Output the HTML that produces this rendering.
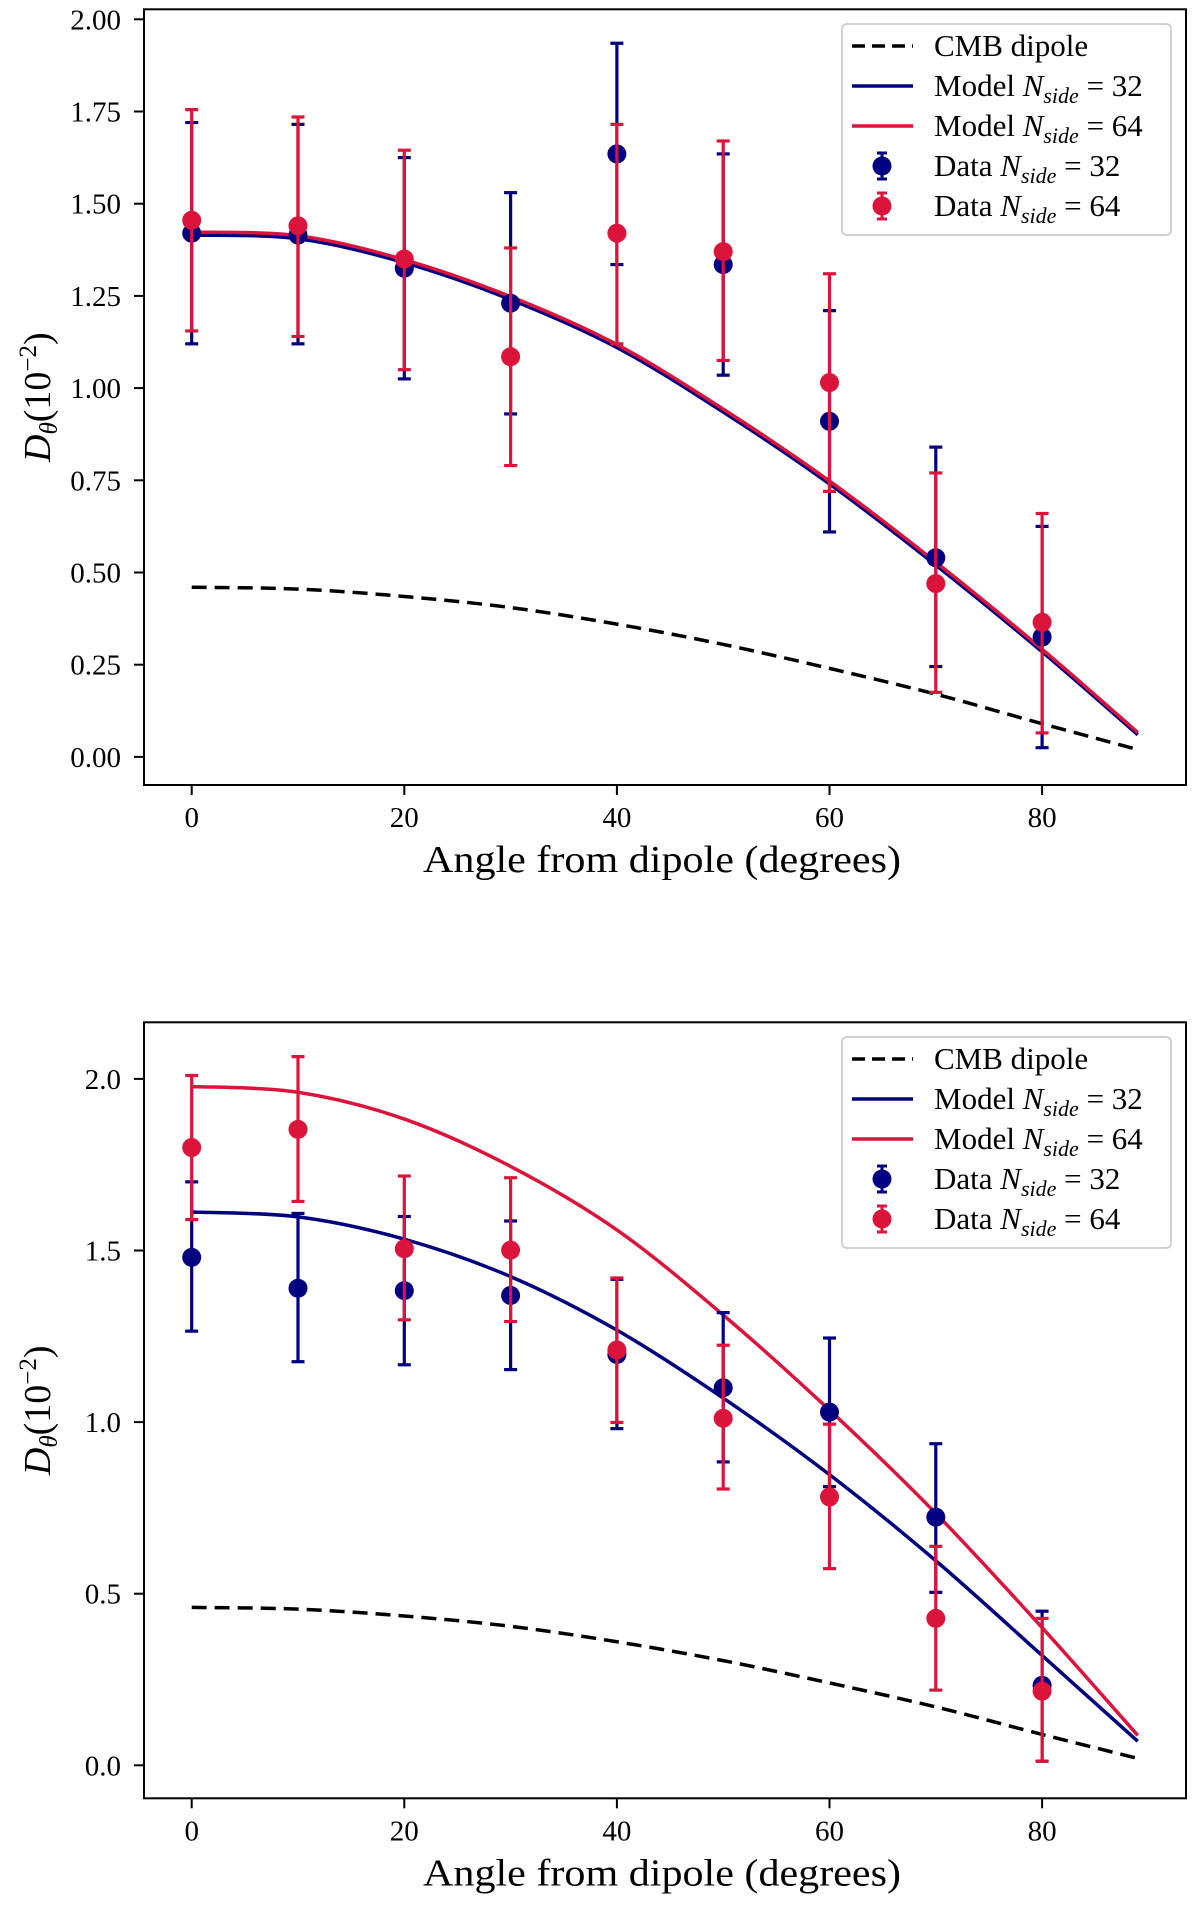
<!DOCTYPE html>
<html>
<head>
<meta charset="utf-8">
<style>
html,body{margin:0;padding:0;background:#fff;}
svg{display:block;}
text{font-family:"Liberation Serif","DejaVu Serif",serif;fill:#000;}
</style>
</head>
<body>
<svg id="fig" width="1200" height="1912" viewBox="0 0 1200 1912" xmlns="http://www.w3.org/2000/svg"></svg>
<script>
// ---- shared data ----
const dataAngles = [0,10,20,30,40,50,60,70,80];
const modelAngles = [0,10,20,30,40,50,60,70,80,89];
const dipoleValues = [0.46,0.455,0.435,0.405,0.36,0.305,0.24,0.17,0.09,0.02];
const xTickValues = [0,20,40,60,80];

// ---- panel A (top) ----
const aBlueVals = [1.42,1.415,1.325,1.23,1.635,1.335,0.91,0.54,0.325];
const aBlueLo   = [1.12,1.12,1.025,0.93,1.335,1.035,0.61,0.245,0.025];
const aBlueHi   = [1.72,1.715,1.625,1.53,1.935,1.635,1.21,0.84,0.625];
const aRedVals  = [1.455,1.44,1.35,1.085,1.42,1.37,1.015,0.47,0.365];
const aRedLo    = [1.155,1.14,1.05,0.79,1.12,1.075,0.72,0.175,0.065];
const aRedHi    = [1.755,1.735,1.645,1.38,1.715,1.67,1.31,0.77,0.66];
const aBlueModel = [1.415,1.405,1.34,1.24,1.11,0.935,0.74,0.52,0.285,0.06];
const aRedModel  = [1.423,1.413,1.348,1.248,1.118,0.943,0.748,0.528,0.292,0.066];
const aYTicks = [0,0.25,0.5,0.75,1.0,1.25,1.5,1.75,2.0];
const aYTickLabels = ["0.00","0.25","0.50","0.75","1.00","1.25","1.50","1.75","2.00"];

// ---- panel B (bottom) ----
const bBlueVals = [1.48,1.39,1.383,1.369,1.197,1.10,1.029,0.723,0.233];
const bBlueLo   = [1.265,1.176,1.167,1.153,0.981,0.884,0.812,0.504,0.012];
const bBlueHi   = [1.70,1.608,1.599,1.586,1.416,1.319,1.245,0.937,0.449];
const bRedVals  = [1.80,1.853,1.505,1.501,1.21,1.011,0.782,0.428,0.216];
const bRedLo    = [1.59,1.643,1.298,1.293,0.999,0.805,0.573,0.219,0.012];
const bRedHi    = [2.01,2.065,1.717,1.712,1.42,1.224,0.994,0.638,0.428];
const bBlueModel = [1.612,1.598,1.533,1.424,1.268,1.07,0.847,0.596,0.32,0.07];
const bRedModel  = [1.978,1.961,1.883,1.745,1.56,1.312,1.035,0.734,0.401,0.087];
const bYTicks = [0,0.5,1.0,1.5,2.0];
const bYTickLabels = ["0.0","0.5","1.0","1.5","2.0"];

const NS = "http://www.w3.org/2000/svg";
const BLUE = "#000080", RED = "#DC143C";
const fig = document.getElementById('fig');

function mk(tag, attrs, parent){
  const e = document.createElementNS(NS, tag);
  for (const k in attrs) e.setAttribute(k, attrs[k]);
  (parent||fig).appendChild(e);
  return e;
}
function smoothPath(pts){
  let d = "M"+pts[0][0].toFixed(2)+","+pts[0][1].toFixed(2);
  for (let i=0;i<pts.length-1;i++){
    const p0=pts[Math.max(i-1,0)], p1=pts[i], p2=pts[i+1], p3=pts[Math.min(i+2,pts.length-1)];
    const c1=[p1[0]+(p2[0]-p0[0])/6, p1[1]+(p2[1]-p0[1])/6];
    const c2=[p2[0]-(p3[0]-p1[0])/6, p2[1]-(p3[1]-p1[1])/6];
    d += " C"+c1[0].toFixed(2)+","+c1[1].toFixed(2)+" "+c2[0].toFixed(2)+","+c2[1].toFixed(2)+" "+p2[0].toFixed(2)+","+p2[1].toFixed(2);
  }
  return d;
}

function panel(cfg){
  const g = mk('g', {});
  
  
  const L=144, R=1186, T=cfg.top, B=cfg.bottom;
  const xS = d => 191.7 + d*10.63;
  const yS = v => cfg.y0 - v*cfg.ppu;

  cfg.yTicks.forEach((v,i)=>{
    const t = mk('line',{x1:L-10,x2:L,y1:yS(v),y2:yS(v),stroke:'#000','stroke-width':2},g);
    
    
    const lb = mk('text',{x:121,y:yS(v)+10,'font-size':29,'text-anchor':'end'},g);
    lb.textContent = cfg.yLabels[i];
    
    
  });
  xTickValues.forEach(v=>{
    const t = mk('line',{x1:xS(v),x2:xS(v),y1:B,y2:B+10,stroke:'#000','stroke-width':2},g);
    
    
    const lb = mk('text',{x:xS(v),y:B+42,'font-size':29,'text-anchor':'middle'},g);
    lb.textContent = String(v);
    
    
  });
  const xl = mk('text',{x:662,y:B+87,'font-size':38,'text-anchor':'middle',textLength:478,lengthAdjust:'spacingAndGlyphs'},g);
  xl.textContent = "Angle from dipole (degrees)";
  
  
  const cy=(T+B)/2;
  const yl = mk('text',{x:0,y:0,'font-size':38,'text-anchor':'middle',transform:'translate(50,'+cy+') rotate(-90)'},g);
  
  
  yl.innerHTML = '<tspan font-style="italic">D</tspan><tspan font-style="italic" font-size="25" dy="7">θ</tspan><tspan dy="-7">(10</tspan><tspan font-size="25" dy="-14">−2</tspan><tspan dy="14">)</tspan>';

  const cid='clip-'+cfg.name;
  const cp = mk('clipPath',{id:cid},g);
  mk('rect',{x:L,y:T,width:R-L,height:B-T},cp);
  const plot = mk('g',{'clip-path':'url(#'+cid+')'},g);
  
  

  const dp = mk('path',{d:smoothPath(modelAngles.map((a,i)=>[xS(a),yS(dipoleValues[i])])),fill:'none',stroke:'#000','stroke-width':3.5,'stroke-dasharray':'15 8'},plot);
  
  
  const mb = mk('path',{d:smoothPath(modelAngles.map((a,i)=>[xS(a),yS(cfg.blueModel[i])])),fill:'none',stroke:BLUE,'stroke-width':3.5},plot);
  
  
  const mr = mk('path',{d:smoothPath(modelAngles.map((a,i)=>[xS(a),yS(cfg.redModel[i])])),fill:'none',stroke:RED,'stroke-width':3.5},plot);
  
  

  function series(vals, lo, hi, col, nm){
    dataAngles.forEach((a,i)=>{
      const x=xS(a);
      const eg = mk('g',{},plot);
      
      
      mk('line',{x1:x,x2:x,y1:yS(lo[i]),y2:yS(hi[i]),stroke:col,'stroke-width':3.2},eg);
      mk('line',{x1:x-6.5,x2:x+6.5,y1:yS(lo[i]),y2:yS(lo[i]),stroke:col,'stroke-width':3.2},eg);
      mk('line',{x1:x-6.5,x2:x+6.5,y1:yS(hi[i]),y2:yS(hi[i]),stroke:col,'stroke-width':3.2},eg);
      mk('circle',{cx:x,cy:yS(vals[i]),r:9.5,fill:col},eg);
    });
  }
  series(cfg.blueVals, cfg.blueLo, cfg.blueHi, BLUE, 'data-nside-32');
  series(cfg.redVals, cfg.redLo, cfg.redHi, RED, 'data-nside-64');

  const fr = mk('rect',{x:L,y:T,width:R-L,height:B-T,fill:'none',stroke:'#000','stroke-width':2},g);
  
  

  const lt = cfg.legendTop;
  const lg = mk('g',{},g);
  
  
  mk('rect',{x:842,y:lt,width:329,height:211,rx:5,fill:'#fff','fill-opacity':0.85,stroke:'#d0d0d0','stroke-width':2},lg);
  const rows = [
    ['CMB dipole',null,'dipole'],
    ['Model ','32','model32'],
    ['Model ','64','model64'],
    ['Data ','32','data32'],
    ['Data ','64','data64']
  ];
  rows.forEach((r,i)=>{
    const ry = lt + 22 + i*40;
    const en = mk('g',{},lg);
    
    
    if (r[2]==='dipole') mk('line',{x1:852,x2:913,y1:ry,y2:ry,stroke:'#000','stroke-width':3.5,'stroke-dasharray':'13 7'},en);
    else if (r[2]==='model32') mk('line',{x1:852,x2:913,y1:ry,y2:ry,stroke:BLUE,'stroke-width':3.5},en);
    else if (r[2]==='model64') mk('line',{x1:852,x2:913,y1:ry,y2:ry,stroke:RED,'stroke-width':3.5},en);
    else {
      const c = r[2]==='data32'?BLUE:RED;
      mk('line',{x1:882,x2:882,y1:ry-13,y2:ry+13,stroke:c,'stroke-width':3},en);
      mk('line',{x1:877,x2:887,y1:ry-13,y2:ry-13,stroke:c,'stroke-width':3},en);
      mk('line',{x1:877,x2:887,y1:ry+13,y2:ry+13,stroke:c,'stroke-width':3},en);
      mk('circle',{cx:882,cy:ry,r:9.5,fill:c},en);
    }
    const tx = mk('text',{x:934,y:ry+10,'font-size':31},en);
    if (r[1]===null) tx.textContent = r[0];
    else tx.innerHTML = r[0]+'<tspan font-style="italic">N</tspan><tspan font-style="italic" font-size="22" dy="7">side</tspan><tspan dy="-7"> =  '+r[1]+'</tspan>';
    tx.setAttribute('xml:space','preserve');
  });
}

panel({name:'top-chart', top:9.3, bottom:785, y0:756.9, ppu:368.8, yTicks:aYTicks, yLabels:aYTickLabels,
  blueVals:aBlueVals, blueLo:aBlueLo, blueHi:aBlueHi, redVals:aRedVals, redLo:aRedLo, redHi:aRedHi,
  blueModel:aBlueModel, redModel:aRedModel, legendTop:24});
panel({name:'bottom-chart', top:1022.3, bottom:1798.3, y0:1765.3, ppu:343.2, yTicks:bYTicks, yLabels:bYTickLabels,
  blueVals:bBlueVals, blueLo:bBlueLo, blueHi:bBlueHi, redVals:bRedVals, redLo:bRedLo, redHi:bRedHi,
  blueModel:bBlueModel, redModel:bRedModel, legendTop:1037});
</script>
</body>
</html>
